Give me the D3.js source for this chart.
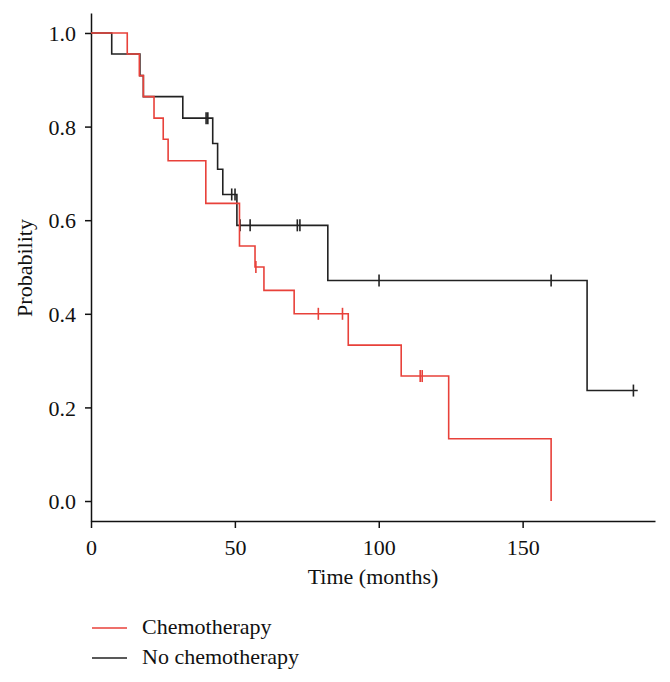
<!DOCTYPE html>
<html>
<head>
<meta charset="utf-8">
<script src="https://cdn.jsdelivr.net/npm/d3@7"></script>
<style>
  html, body { margin: 0; padding: 0; background: #fff; }
  svg { display: block; }
  text { font-family: "Liberation Serif", "DejaVu Serif", serif; fill: #111; }
</style>
</head>
<body>
<svg id="chart" width="670" height="682"></svg>
<script>
// ---- Data ----
const chemoTimes = [0, 12.6, 16.8, 18.2, 21.9, 25.1, 26.8, 39.9, 51.6, 57.0, 60.1, 70.6, 89.4, 107.8, 124.3, 159.9];
const chemoSurv  = [1.0, 0.955, 0.909, 0.864, 0.818, 0.773, 0.727, 0.636, 0.545, 0.5, 0.45, 0.4, 0.333, 0.267, 0.133, 0.0];
const chemoCensor = [57.3, 79.0, 87.4, 114.4, 115.1];

const noChemoTimes = [0, 7.2, 17.0, 18.2, 31.9, 42.3, 44.0, 45.8, 50.7, 82.3, 172.4, 190.0];
const noChemoSurv  = [1.0, 0.955, 0.909, 0.864, 0.818, 0.764, 0.709, 0.655, 0.589, 0.471, 0.236, 0.236];
const noChemoCensor = [40.0, 40.6, 48.9, 50.05, 51.8, 55.3, 71.7, 72.6, 100.1, 159.9, 188.5];

const xTicks = [0, 50, 100, 150];
const yTicks = [0.0, 0.2, 0.4, 0.6, 0.8, 1.0];
const seriesNames = ["Chemotherapy", "No chemotherapy"];
const seriesColors = ["#e8413a", "#222222"];

// ---- Layout ----
const svg = d3.select("#chart");
const x = d3.scaleLinear().domain([0, 196]).range([91, 655]);
const y = d3.scaleLinear().domain([-0.0427, 1.0427]).range([521, 13]);

// Axes
const xAxis = d3.axisBottom(x).tickValues(xTicks).tickFormat(d3.format("d")).tickSize(7).tickSizeOuter(0);
const yAxis = d3.axisLeft(y).tickValues(yTicks).tickFormat(d3.format(".1f")).tickSize(6).tickSizeOuter(0);

const gx = svg.append("g").attr("transform", "translate(0,521)").call(xAxis);
const gy = svg.append("g").attr("transform", "translate(91,0)").call(yAxis);
[gx, gy].forEach(g => {
  g.select(".domain").attr("stroke", "#111").attr("stroke-width", 1.5);
  g.selectAll(".tick line").attr("stroke", "#111").attr("stroke-width", 1.5);
  g.selectAll(".tick text").attr("font-family", "Liberation Serif").attr("font-size", 22).attr("fill", "#111");
});
gx.selectAll(".tick text").attr("dy", "1.1em");
gy.selectAll(".tick text").attr("x", -15).attr("dy", "0.35em");

// Axis titles
svg.append("text").attr("x", 373).attr("y", 584).attr("text-anchor", "middle")
  .attr("font-size", 22).text("Time (months)");
svg.append("text").attr("transform", "translate(32,268) rotate(-90)").attr("text-anchor", "middle")
  .attr("font-size", 22).text("Probability");

// Survival curves
const line = d3.line().x(d => x(d[0])).y(d => y(d[1])).curve(d3.curveStepAfter);
const stepAt = (times, surv, t) => {
  let v = surv[0];
  for (let i = 0; i < times.length; i++) if (times[i] <= t) v = surv[i];
  return v;
};
const series = [
  { times: chemoTimes, surv: chemoSurv, censor: chemoCensor, color: seriesColors[0] },
  { times: noChemoTimes, surv: noChemoSurv, censor: noChemoCensor, color: seriesColors[1] }
];
[series[1], series[0]].forEach(s => {
  const pts = s.times.map((t, i) => [t, s.surv[i]]);
  svg.append("path").datum(pts).attr("d", line)
    .attr("fill", "none").attr("stroke", s.color).attr("stroke-width", 1.6);
  svg.append("g").selectAll("line").data(s.censor).join("line")
    .attr("x1", d => x(d)).attr("x2", d => x(d))
    .attr("y1", d => y(stepAt(s.times, s.surv, d)) - 6)
    .attr("y2", d => y(stepAt(s.times, s.surv, d)) + 6)
    .attr("stroke", s.color).attr("stroke-width", 1.6);
});

// Legend
const leg = svg.append("g");
seriesNames.forEach((name, i) => {
  const yy = 628 + i * 30;
  leg.append("line").attr("x1", 92).attr("x2", 127).attr("y1", yy).attr("y2", yy)
    .attr("stroke", seriesColors[i]).attr("stroke-width", 1.6);
  leg.append("text").attr("x", 142).attr("y", yy + 6).attr("font-size", 22).text(name);
});
</script>
</body>
</html>
